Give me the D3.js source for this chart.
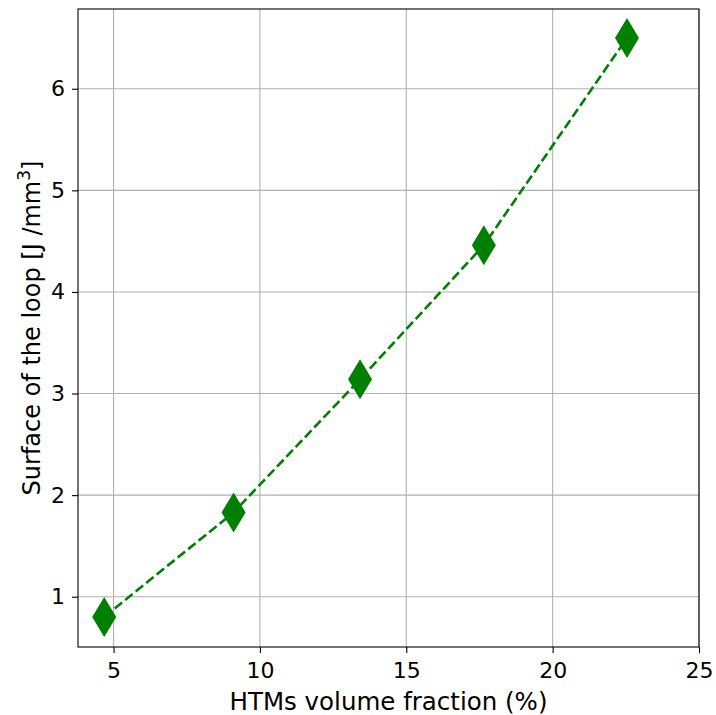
<!DOCTYPE html>
<html>
<head>
<meta charset="utf-8">
<script src="https://cdn.jsdelivr.net/npm/d3@7"></script>
<style>
  body { margin: 0; background: #fff; }
  text { font-family: "DejaVu Sans", sans-serif; }
</style>
</head>
<body>
<svg id="chart"></svg>
<script>
const fraction = [4.68, 9.1, 13.42, 17.65, 22.54];
const surface = [0.8, 1.83, 3.14, 4.46, 6.5];
const xTicks = [5, 10, 15, 20, 25];
const yTicks = [1, 2, 3, 4, 5, 6];

const width = 716,
    height = 715;
const plotLeft = 78,
    plotRight = 699,
    plotTop = 9,
    plotBottom = 647;

const svg = d3.select("#chart").attr("width", width).attr("height", height);

const xScale = d3.scaleLinear().domain([3.785, 25]).range([plotLeft, plotRight]);
const yScale = d3.scaleLinear().domain([0.505, 6.785]).range([plotBottom, plotTop]);

// grid
svg.append("g")
    .selectAll("line")
    .data(xTicks)
    .enter()
    .append("line")
    .attr("x1", (d) => xScale(d))
    .attr("x2", (d) => xScale(d))
    .attr("y1", plotTop)
    .attr("y2", plotBottom)
    .attr("stroke", "#b0b0b0")
    .attr("stroke-width", 1.1);

svg.append("g")
    .selectAll("line")
    .data(yTicks)
    .enter()
    .append("line")
    .attr("x1", plotLeft)
    .attr("x2", plotRight)
    .attr("y1", (d) => yScale(d))
    .attr("y2", (d) => yScale(d))
    .attr("stroke", "#b0b0b0")
    .attr("stroke-width", 1.1);

// axes
const xAxis = d3.axisBottom(xScale).tickValues(xTicks).tickFormat(d3.format("d")).tickSize(6).tickPadding(9);
const yAxis = d3.axisLeft(yScale).tickValues(yTicks).tickFormat(d3.format("d")).tickSize(6).tickPadding(7);

const gx = svg.append("g")
    .attr("id", "x-axis")
    .attr("transform", `translate(0, ${plotBottom})`)
    .call(xAxis);
const gy = svg.append("g")
    .attr("id", "y-axis")
    .attr("transform", `translate(${plotLeft}, 0)`)
    .call(yAxis);

[gx, gy].forEach((g) => {
    g.attr("font-size", null).attr("font-family", null);
    g.select(".domain").remove();
    g.selectAll("line").attr("stroke", "#000").attr("stroke-width", 1.1);
    g.selectAll("text")
        .style("font-family", "DejaVu Sans")
        .style("font-size", "22px")
        .attr("fill", "#000");
});

// frame
svg.append("rect")
    .attr("x", plotLeft)
    .attr("y", plotTop)
    .attr("width", plotRight - plotLeft)
    .attr("height", plotBottom - plotTop)
    .attr("fill", "none")
    .attr("stroke", "#000")
    .attr("stroke-width", 1.1);

// data line
const pts = fraction.map((f, i) => [f, surface[i]]);
svg.append("path")
    .datum(pts)
    .attr("fill", "none")
    .attr("stroke", "green")
    .attr("stroke-width", 2.6)
    .attr("stroke-dasharray", "9.5,4")
    .attr("d", d3.line().x((d) => xScale(d[0])).y((d) => yScale(d[1])));

// thin diamond markers
const mw = 12,
    mh = 20;
svg.append("g")
    .selectAll("path")
    .data(pts)
    .enter()
    .append("path")
    .attr("fill", "green")
    .attr("d", (d) => {
        const cx = xScale(d[0]),
            cy = yScale(d[1]);
        return `M${cx},${cy - mh}L${cx + mw},${cy}L${cx},${cy + mh}L${cx - mw},${cy}Z`;
    });

// axis labels
svg.append("text")
    .attr("x", (plotLeft + plotRight) / 2)
    .attr("y", 710)
    .attr("text-anchor", "middle")
    .style("font-size", "24.5px")
    .text("HTMs volume fraction (%)");

const yl = svg.append("text")
    .attr("transform", `translate(40, ${(plotTop + plotBottom) / 2}) rotate(-90)`)
    .attr("text-anchor", "middle")
    .style("font-size", "24px");
yl.append("tspan").text("Surface of the loop [J /mm");
yl.append("tspan").style("font-size", "17px").attr("dy", -10).text("3");
yl.append("tspan").attr("dy", 10).text("]");
</script>
</body>
</html>
